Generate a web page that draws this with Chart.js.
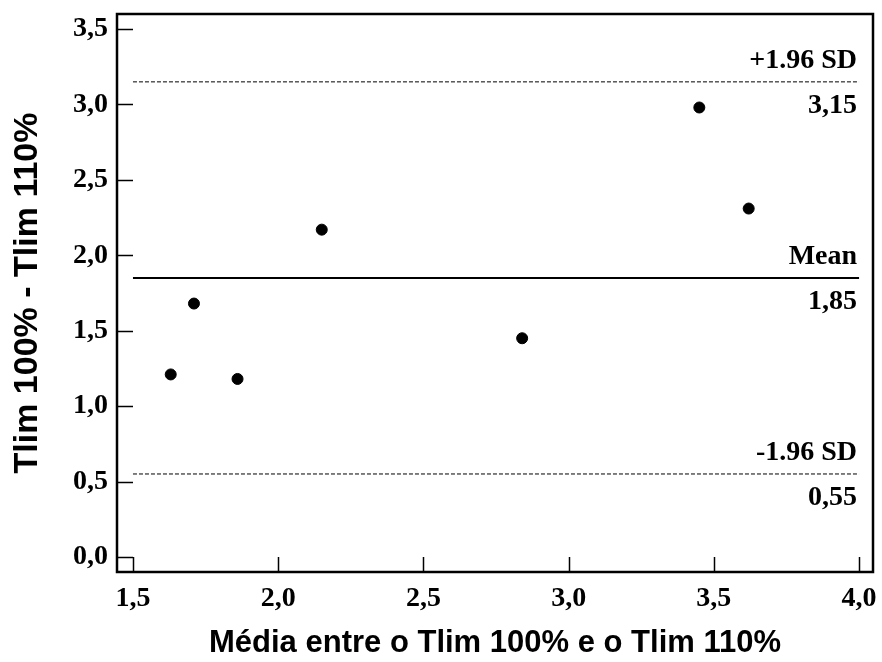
<!DOCTYPE html>
<html>
<head>
<meta charset="utf-8">
<script src="https://cdn.jsdelivr.net/npm/chart.js@4.4.1/dist/chart.umd.min.js"></script>
<style>
    body { margin: 0; background: #fff; }
    canvas { display: block; }
</style>
</head>
<body>
<canvas id="blandAltman" width="882" height="662"></canvas>
<script>
// Bland-Altman - Tlim 100% vs Tlim 110%
const meanValues = [1.63, 1.71, 1.86, 2.15, 2.84, 3.45, 3.62];
const diffValues = [1.21, 1.68, 1.18, 2.17, 1.45, 2.98, 2.31];
const xTicks = [1.5, 2.0, 2.5, 3.0, 3.5, 4.0];
const yTicks = [0.0, 0.5, 1.0, 1.5, 2.0, 2.5, 3.0, 3.5];
const refValues = [3.15, 1.85, 0.55];
const refNames = ['+1.96 SD', 'Mean', '-1.96 SD'];
const refDashed = [true, false, true];

const serif = '"Liberation Serif", "Times New Roman", serif';
const sans = '"Liberation Sans", Arial, sans-serif';
const fmt = (v, d) => v.toFixed(d).replace('.', ',');

const points = meanValues.map((x, i) => ({ x: x, y: diffValues[i] }));

const refDatasets = refValues.map((v, i) => ({
    label: refNames[i],
    data: [{ x: xTicks[0], y: v }, { x: xTicks[xTicks.length - 1], y: v }],
    showLine: true,
    borderColor: '#000',
    borderWidth: refDashed[i] ? 1 : 2,
    borderDash: refDashed[i] ? [4, 2] : [],
    pointRadius: 0,
    pointHoverRadius: 0
}));

// frame, inward ticks and labels for the reference lines
const framePlugin = {
    id: 'frame',
    afterDraw(chart) {
        const { ctx, chartArea: a, scales } = chart;
        const xs = scales.x, ys = scales.y;
        ctx.save();
        ctx.strokeStyle = '#000';
        ctx.lineWidth = 1.5;
        ctx.beginPath();
        yTicks.forEach(v => {
            const y = Math.round(ys.getPixelForValue(v)) + 0.5;
            ctx.moveTo(a.left, y);
            ctx.lineTo(a.left + 16, y);
        });
        xTicks.forEach(v => {
            const x = Math.round(xs.getPixelForValue(v)) + 0.5;
            ctx.moveTo(x, a.bottom);
            ctx.lineTo(x, a.bottom - 15);
        });
        ctx.stroke();

        ctx.lineWidth = 2.5;
        ctx.strokeRect(a.left, a.top, a.right - a.left, a.bottom - a.top);

        ctx.fillStyle = '#000';
        ctx.font = 'bold 28px ' + serif;
        ctx.textAlign = 'right';
        ctx.textBaseline = 'alphabetic';
        const xr = xs.getPixelForValue(xTicks[xTicks.length - 1]) - 2;
        refValues.forEach((v, i) => {
            const y = ys.getPixelForValue(v);
            ctx.fillText(refNames[i], xr, y - 14);
            ctx.fillText(fmt(v, 2), xr, y + 31);
        });
        ctx.restore();
    }
};

new Chart(document.getElementById('blandAltman'), {
    type: 'scatter',
    data: {
        datasets: [{
            label: 'Diferença',
            data: points,
            backgroundColor: '#000',
            borderColor: '#000',
            pointRadius: 5.5,
            pointHoverRadius: 5.5
        }, ...refDatasets]
    },
    options: {
        responsive: false,
        animation: false,
        devicePixelRatio: 1,
        layout: { padding: { left: 0, top: 14, right: 9, bottom: 0 } },
        plugins: {
            legend: { display: false },
            tooltip: { enabled: false }
        },
        scales: {
            x: {
                type: 'linear',
                min: 1.445,
                max: 4.048,
                afterBuildTicks: s => { s.ticks = xTicks.map(v => ({ value: v })); },
                afterFit: s => {
                    s.height = 90;
                    s.paddingLeft = 0;
                    s.paddingRight = 0;
                },
                grid: { display: false, drawTicks: false },
                border: { display: false },
                ticks: {
                    padding: 10,
                    color: '#000',
                    font: { family: serif, size: 28, weight: 'bold' },
                    callback: v => fmt(v, 1)
                },
                title: {
                    display: true,
                    text: 'Média entre o Tlim 100% e o Tlim 110%',
                    color: '#000',
                    font: { family: sans, size: 31, weight: 'bold' },
                    padding: { top: 0, bottom: 0 }
                }
            },
            y: {
                type: 'linear',
                min: -0.1,
                max: 3.6,
                afterBuildTicks: s => { s.ticks = yTicks.map(v => ({ value: v })); },
                afterFit: s => {
                    s.width = 117;
                    s.paddingTop = 0;
                    s.paddingBottom = 0;
                },
                grid: { display: false, drawTicks: false },
                border: { display: false },
                ticks: {
                    padding: 9,
                    color: '#000',
                    font: { family: serif, size: 28, weight: 'bold' },
                    callback: v => fmt(v, 1)
                },
                title: {
                    display: true,
                    text: 'Tlim 100% - Tlim 110%',
                    color: '#000',
                    font: { family: sans, size: 34, weight: 'bold' },
                    padding: { top: 7, bottom: 0 }
                }
            }
        }
    },
    plugins: [framePlugin]
});
</script>
</body>
</html>
